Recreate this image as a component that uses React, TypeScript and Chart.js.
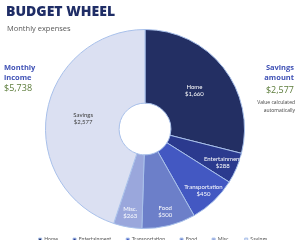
import React, { useEffect, useRef } from "react";
import { Chart, registerables } from "chart.js";

Chart.register(...registerables);

const categories = ["Home", "Entertainment", "Transportation", "Food", "Misc.", "Savings"];
const amounts = [1660, 288, 450, 500, 263, 2577];
const amountLabels = ["$1,660", "$288", "$450", "$500", "$263", "$2,577"];
const sliceColors = ["#232f63", "#2b3a8e", "#4358c2", "#6c7fc9", "#9aa7dc", "#dbe0f2"];
const labelColors = ["#ffffff", "#ffffff", "#ffffff", "#ffffff", "#ffffff", "#404040"];
const incomeText = "$5,738";
const savingsText = "$2,577";

const FONT = "'Open Sans', 'Noto Sans', sans-serif";
const SMALL_FONT = "Lato, 'Open Sans', sans-serif";

const sliceLabelPlugin = {
  id: "sliceLabels",
  afterDatasetsDraw(chart: any) {
    const ctx = chart.ctx;
    const meta = chart.getDatasetMeta(0);
    ctx.save();
    ctx.font = `6px ${SMALL_FONT}`;
    ctx.textAlign = "center";
    ctx.textBaseline = "middle";
    meta.data.forEach((arc: any, i: number) => {
      const p = arc.getProps(["x", "y", "startAngle", "endAngle", "innerRadius", "outerRadius"], true);
      const span = p.endAngle - p.startAngle;
      const mid = (p.startAngle + p.endAngle) / 2;
      const r = span < 0.7 ? p.outerRadius * 0.85 : p.innerRadius + (p.outerRadius - p.innerRadius) * 0.5;
      const x = p.x + Math.cos(mid) * r;
      const y = p.y + Math.sin(mid) * r;
      ctx.fillStyle = labelColors[i];
      ctx.fillText(categories[i], x, y - 3.5);
      ctx.fillText(amountLabels[i], x, y + 3.5);
    });
    ctx.restore();
  },
};

const layoutTweak = {
  id: "layoutTweak",
  beforeInit(chart: any) {
    const legend = chart.legend;
    if (legend) {
      const origFit = legend.fit;
      legend.fit = function () {
        origFit.call(this);
        this.height = 18;
      };
    }
  },
  afterLayout(chart: any) {
    chart.chartArea.left -= 5;
    chart.chartArea.right -= 5;
    if (chart.legend) {
      chart.legend.top -= 7;
      chart.legend.bottom -= 7;
      chart.legend.left += 3;
      chart.legend.right += 3;
    }
  },
};

export default function App() {
  const ref = useRef<HTMLCanvasElement>(null);
  useEffect(() => {
    if (!ref.current) return;
    const chart = new Chart(ref.current, {
      type: "doughnut",
      data: {
        labels: categories,
        datasets: [
          {
            data: amounts,
            backgroundColor: sliceColors,
            borderColor: "#a8c0ea",
            borderWidth: 1,
          },
        ],
      },
      options: {
        animation: false,
        responsive: false,
        cutout: "26%",
        layout: { padding: { top: 29, left: 0, right: 0, bottom: 0 } },
        plugins: {
          tooltip: { enabled: false },
          legend: {
            position: "bottom",
            labels: {
              usePointStyle: true,
              pointStyle: "rect",
              boxWidth: 3,
              boxHeight: 3,
              padding: 15,
              color: "#595959",
              font: { size: 5.2, family: SMALL_FONT },
            },
          },
        },
      },
      plugins: [layoutTweak, sliceLabelPlugin],
    });
    return () => chart.destroy();
  }, []);

  const abs = (extra: React.CSSProperties): React.CSSProperties => ({ position: "absolute", whiteSpace: "nowrap", ...extra });

  return (
    <div style={{ position: "fixed", left: 0, top: 0, width: 300, height: 247, background: "#fff", fontFamily: FONT }}>
      <canvas ref={ref} width={300} height={247} style={{ position: "absolute", left: 0, top: 0 }} />
      <div style={abs({ left: 6, top: 3, fontSize: 14, lineHeight: "16px", fontWeight: 800, color: "#1f2d66" })}>
        BUDGET WHEEL
      </div>
      <div style={abs({ left: 7, top: 24, fontSize: 7.5, lineHeight: "9px", color: "#595959" })}>
        Monthly expenses
      </div>
      <div style={abs({ left: 4, top: 62, fontSize: 7.5, lineHeight: "10px", fontWeight: 700, color: "#3f51b5" })}>
        Monthly<br />income
      </div>
      <div style={abs({ left: 4, top: 82, fontSize: 9, lineHeight: "11px", color: "#5b7b39" })}>{incomeText}</div>
      <div style={abs({ right: 6, top: 62, fontSize: 7.5, lineHeight: "10px", fontWeight: 700, color: "#3f51b5", textAlign: "right" })}>
        Savings<br />amount
      </div>
      <div style={abs({ right: 6, top: 84, fontSize: 9, lineHeight: "11px", color: "#5b7b39", textAlign: "right" })}>{savingsText}</div>
      <div style={abs({ right: 5, top: 98, fontSize: 5, lineHeight: "8px", color: "#404040", textAlign: "right" })}>
        Value calculated<br />automatically
      </div>
    </div>
  );
}
